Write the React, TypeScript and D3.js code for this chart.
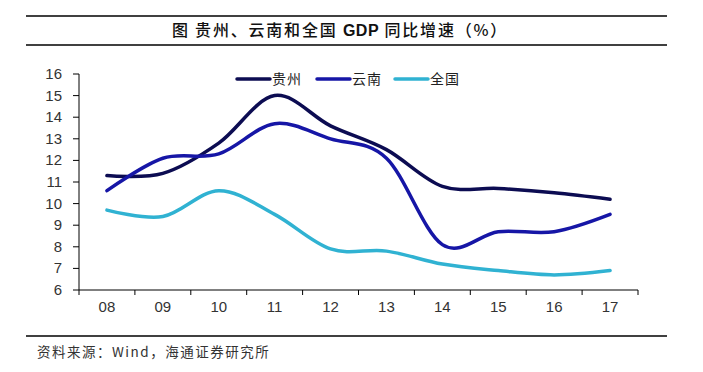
import React from "react";
import * as d3 from "d3";

const years = ["08", "09", "10", "11", "12", "13", "14", "15", "16", "17"];
const guizhou = [11.3, 11.4, 12.8, 15.0, 13.6, 12.5, 10.8, 10.7, 10.5, 10.2];
const yunnan = [10.6, 12.1, 12.3, 13.7, 13.0, 12.1, 8.1, 8.7, 8.7, 9.5];
const national = [9.7, 9.4, 10.6, 9.5, 7.9, 7.8, 7.2, 6.9, 6.7, 6.9];
const yTicks = [6, 7, 8, 9, 10, 11, 12, 13, 14, 15, 16];
const seriesNames = ["贵州", "云南", "全国"];
const seriesColors = ["#0c0c52", "#1616a6", "#30b2d2"];
const titleParts = ["图 贵州、云南和全国 ", "GDP", " 同比增速（%）"];
const source = "资料来源：Wind，海通证券研究所";

export default function App() {
  const W = 703, H = 372;
  const x = d3.scaleBand<string>().domain(years).range([79, 638]).padding(0);
  const y = d3.scaleLinear().domain([6, 16]).range([290, 74]);
  const line = d3
    .line<number>()
    .x((_, i) => (x(years[i]) as number) + x.bandwidth() / 2)
    .y((d) => y(d))
    .curve(d3.curveCardinal.tension(0));
  const series = [guizhou, yunnan, national];
  const legendX = [237, 317, 395];
  const cjk = "'Noto Sans CJK SC', 'Noto Sans', sans-serif";
  const latin = "'Liberation Sans', Arial, sans-serif";
  const boundaries = years.map((yr) => x(yr) as number).concat([638]);

  return (
    <svg width={W} height={H} style={{ position: "absolute", left: 0, top: 0, background: "#fff" }}>
      <rect x={0} y={0} width={W} height={H} fill="#fff" />
      <line x1={26} x2={667} y1={16} y2={16} stroke="#000" strokeWidth={1.3} />
      <line x1={26} x2={667} y1={45} y2={45} stroke="#000" strokeWidth={1.3} />
      <text x={340} y={36} textAnchor="middle" fontFamily={cjk} fontSize={16} fontWeight={500} fill="#111" letterSpacing={1.8}>
        <tspan>{titleParts[0]}</tspan>
        <tspan fontFamily={latin} fontWeight={700} letterSpacing={0.5}>{titleParts[1]}</tspan>
        <tspan>{titleParts[2]}</tspan>
      </text>

      {/* y axis */}
      <line x1={79} x2={79} y1={y(16)} y2={y(6)} stroke="#000" strokeWidth={1} />
      {yTicks.map((t) => (
        <g key={t}>
          <line x1={73} x2={79} y1={y(t)} y2={y(t)} stroke="#000" strokeWidth={1} />
          <text x={62} y={y(t) + 5} textAnchor="end" fontFamily={latin} fontSize={15} fill="#333">
            {t}
          </text>
        </g>
      ))}

      {/* x axis */}
      <line x1={79} x2={638} y1={y(6)} y2={y(6)} stroke="#000" strokeWidth={1} />
      {boundaries.map((b, i) => (
        <line key={i} x1={b} x2={b} y1={y(6)} y2={y(6) + 5} stroke="#000" strokeWidth={1} />
      ))}
      {years.map((yr) => (
        <text key={yr} x={(x(yr) as number) + x.bandwidth() / 2} y={312} textAnchor="middle" fontFamily={latin} fontSize={15} fill="#333">
          {yr}
        </text>
      ))}

      {/* series */}
      {series.map((s, i) => (
        <path key={i} d={line(s) || ""} fill="none" stroke={seriesColors[i]} strokeWidth={3.5} strokeLinecap="round" />
      ))}

      {/* legend */}
      {seriesNames.map((n, i) => (
        <g key={n}>
          <line x1={legendX[i]} x2={legendX[i] + 33} y1={79} y2={79} stroke={seriesColors[i]} strokeWidth={3.5} strokeLinecap="round" />
          <text x={legendX[i] + 35} y={84} fontFamily={cjk} fontSize={14} fill="#222" letterSpacing={1}>
            {n}
          </text>
        </g>
      ))}

      <line x1={26} x2={667} y1={336} y2={336} stroke="#000" strokeWidth={1.3} />
      <text x={37} y={357} fontFamily={cjk} fontSize={13.5} fill="#333" letterSpacing={1.5}>
        {source}
      </text>
    </svg>
  );
}
